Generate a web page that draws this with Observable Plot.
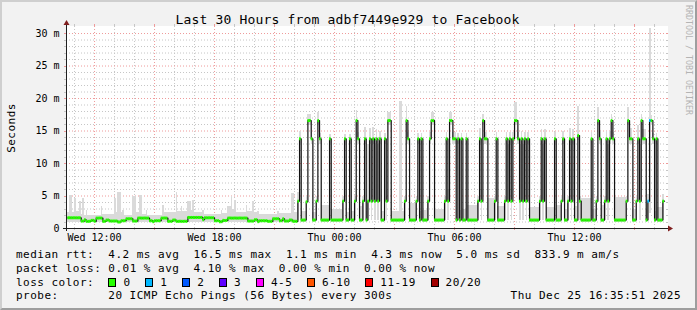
<!DOCTYPE html>
<html><head><meta charset="utf-8">
<script src="https://cdn.jsdelivr.net/npm/d3@7"></script>
<script src="https://cdn.jsdelivr.net/npm/@observablehq/plot@0.6"></script>
<style>
html,body{margin:0;padding:0;background:#fff;}
#chart{position:relative;width:697px;height:310px;background:#f2f2f2;box-sizing:border-box;
  border-top:2px solid #cfcfcf;border-left:2px solid #cfcfcf;border-right:2px solid #9e9e9e;border-bottom:2px solid #9e9e9e;
  overflow:hidden;font-family:"DejaVu Sans Mono",monospace;color:#000;}
#inner{position:absolute;left:-2px;top:-2px;width:697px;height:310px;}
.t{position:absolute;white-space:pre;font-size:11px;line-height:13px;letter-spacing:0.48px;}
</style></head><body><div id="chart"><div id="inner"></div></div>
<script>
// ---------- data ----------
const title = "Last 30 Hours from adbf7449e929 to Facebook";
const yLabel = "Seconds";
const watermark = "RRDTOOL / TOBI OETIKER";
const yTickValues = [0, 5, 10, 15, 20, 25, 30];
const yTickLabels = ["0", "5 m", "10 m", "15 m", "20 m", "25 m", "30 m"];
const xTickTimes = ["2025-12-24T12:00", "2025-12-24T18:00", "2025-12-25T00:00", "2025-12-25T06:00", "2025-12-25T12:00"];
const xTickLabels = ["Wed 12:00", "Wed 18:00", "Thu 00:00", "Thu 06:00", "Thu 12:00"];
const rangeStart = "2025-12-24T10:35:51";
const rangeEnd = "2025-12-25T16:35:51";
const firstSample = "2025-12-24T10:40:00";
const stepMinutes = 5;

// median rtt (ms) as [number of 5-minute samples, value]
const medianRuns = [
  [8,1.65],[2,1.15],[1,1.35],[3,1.1],[2,1.25],[1,1.1],[4,1.6],[2,1.1],[2,1.3],[5,1.15],
  [2,1.0],[3,1.2],[4,1.5],[3,1.15],[7,1.6],[2,1.2],[1,1.05],[4,1.2],[4,1.6],[3,1.1],
  [2,1.3],[7,1.1],[9,1.7],[1,1.35],[6,1.65],[3,1.2],[2,1.05],[3,1.25],[12,1.6],[4,1.15],
  [2,1.35],[1,1.05],[5,1.2],[3,1.1],[4,1.5],[2,1.2],[1,1.5],[3,1.15],[2,1.3],[3,1.1],
  [1,4.2],[1,13.8],[3,1.3],[1,4.1],[2,16.6],[1,13.8],[2,1.3],[1,4.2],[1,16.6],[1,13.8],
  [5,1.3],[1,13.8],[7,1.3],[1,4.2],[1,13.8],[2,1.3],[1,13.8],[2,1.3],[1,4.2],[1,16.6],
  [1,13.8],[2,1.3],[1,4.2],[1,13.8],[1,1.3],[1,4.2],[1,13.8],[1,4.2],[1,13.8],[1,4.2],
  [1,13.8],[1,4.2],[1,13.8],[2,1.3],[1,13.8],[1,4.2],[2,16.6],[8,1.3],[1,4.2],[1,16.6],
  [1,13.8],[4,1.3],[1,4.2],[1,13.8],[1,1.3],[1,13.8],[3,1.3],[1,4.2],[1,13.8],[2,16.6],
  [6,1.3],[1,4.2],[1,13.8],[1,4.2],[2,16.6],[2,13.8],[1,1.3],[1,13.8],[1,1.3],[1,13.8],
  [2,1.3],[1,13.8],[6,1.3],[1,4.2],[1,13.8],[1,4.2],[1,16.6],[2,13.8],[4,1.3],[1,4.2],
  [1,13.8],[4,1.3],[1,4.2],[1,13.8],[1,4.2],[1,13.8],[1,4.2],[1,13.8],[2,16.6],[1,13.8],
  [1,4.2],[1,13.8],[1,4.2],[1,13.8],[1,4.2],[1,13.8],[6,1.3],[1,4.2],[1,13.8],[1,4.2],
  [1,13.8],[5,1.3],[1,13.8],[3,1.3],[1,4.2],[1,13.8],[2,1.3],[1,4.2],[1,13.8],[1,4.2],
  [1,13.8],[2,1.3],[1,14.3],[1,4.2],[6,1.3],[1,13.8],[2,1.3],[1,4.2],[1,16.6],[1,13.8],
  [2,1.3],[1,4.2],[1,13.8],[1,4.2],[1,13.8],[1,16.6],[1,13.8],[7,1.3],[1,4.2],[1,16.6],
  [2,13.8],[2,1.3],[1,4.2],[1,13.8],[1,4.2],[1,16.6],[2,13.8],[1,1.3],[1,4.2],[2,16.6],
  [1,13.8],[1,1.3],[1,13.8],[3,1.3],[1,4.2]
];
// lost pings per sample (out of 20) as [samples, lost]
const lossRuns = [[348,0],[2,1],[8,0]];
// smoke (spread of the 20 pings) as [samples, lowest ms, highest ms]
const smokeRuns = [
  [1,1.0,2.5],[2,1.0,5.1],[1,1.0,2.4],[1,1.0,4.6],[2,1.0,2.6],[1,1.0,4.1],[1,1.0,2.2],[1,1.0,4.6],[1,1.0,2.0],[1,1.0,2.8],
  [8,1.0,2.0],[1,1.0,3.4],[7,1.0,2.1],[1,1.0,4.6],[1,1.0,2.5],[2,1.0,5.6],[1,1.0,2.4],[1,1.0,2.8],[5,1.0,2.0],[2,1.0,4.9],
  [2,1.0,2.4],[2,1.0,5.1],[2,1.0,2.2],[1,1.0,2.8],[9,1.0,2.0],[1,1.0,3.6],[7,1.0,2.4],[1,1.0,5.6],[2,1.0,2.6],[1,1.0,3.4],
  [3,1.0,2.6],[2,1.0,4.1],[1,1.0,2.8],[1,1.0,4.3],[5,1.0,2.4],[1,1.0,2.8],[10,1.0,2.2],[1,1.0,2.8],[3,1.0,2.3],[2,1.0,3.4],
  [1,1.0,4.9],[1,1.0,3.0],[1,1.0,4.3],[6,1.0,2.4],[1,1.0,3.6],[3,1.0,2.6],[1,1.0,4.1],[2,1.0,2.4],[1,1.0,2.6],[11,1.0,2.1],
  [1,1.0,2.6],[7,1.0,2.3],[2,1.0,5.4],[2,1.0,2.5],
  [1,1.2,5.5],[1,13.0,15.0],[3,1.0,2.6],[1,1.2,5.0],[2,15.8,17.6],[1,13.0,14.8],[2,1.0,2.4],[1,1.2,5.0],[1,15.8,17.8],[1,13.0,14.6],
  [5,1.0,3.6],[1,13.0,14.4],[7,1.0,3.0],[1,1.2,5.0],[1,13.0,14.4],[2,1.0,2.4],[1,13.0,14.4],[2,1.0,2.6],[1,1.2,5.0],[1,15.8,18.2],
  [1,13.0,14.8],[2,1.0,3.4],[1,1.2,5.0],[1,13.0,15.6],[1,1.0,2.6],[1,1.2,13.0],[1,13.0,15.4],[1,1.2,13.0],[1,13.0,15.6],[1,1.2,13.0],
  [1,13.0,15.2],[1,1.2,13.0],[1,13.0,15.0],[2,1.0,2.6],[1,13.0,14.6],[1,1.2,5.0],[2,15.8,17.8],[5,1.0,2.6],[2,1.0,19.6],[1,1.0,2.6],
  [1,1.2,5.0],[1,15.8,18.8],[1,13.0,14.8],[4,1.0,3.8],[1,1.2,5.0],[1,13.0,14.6],[1,1.0,2.6],[1,13.0,14.6],[3,1.0,2.8],[1,1.2,5.0],
  [1,13.0,14.8],[2,15.8,17.8],[6,1.0,3.0],[1,1.2,5.0],[1,13.0,14.8],[1,1.2,6.0],[2,15.8,17.8],[2,13.0,14.8],[1,1.0,2.8],[1,13.0,14.6],
  [1,1.0,2.8],[1,13.0,14.6],[2,1.0,3.0],[1,13.0,14.6],[6,1.0,3.6],[1,1.2,5.0],[1,13.0,15.4],[1,1.2,6.0],[1,15.8,17.6],[2,13.0,14.8],
  [4,1.0,4.6],[1,1.2,5.0],[1,13.0,14.8],[4,1.0,3.4],[1,1.2,5.0],[1,13.0,14.8],[1,1.2,13.0],[1,13.0,14.8],[1,1.2,13.0],[1,13.0,14.8],
  [2,15.8,19.4],[1,13.0,14.8],[1,1.2,13.0],[1,13.0,15.0],[1,1.2,13.0],[1,13.0,14.8],[1,1.2,13.0],[1,13.0,14.8],[6,1.0,3.2],[1,1.2,5.0],
  [1,13.0,15.2],[1,1.2,13.0],[1,13.0,15.2],[5,1.0,3.2],[1,13.0,14.8],[3,1.0,3.6],[1,1.2,5.0],[1,13.0,15.0],[2,1.0,3.0],[1,1.2,5.0],
  [1,13.0,15.4],[1,1.2,13.0],[1,13.0,15.2],[2,1.0,3.4],[1,13.5,18.8],[1,1.2,5.0],[6,1.0,4.6],[1,13.0,14.8],[2,1.0,3.0],[1,1.2,5.0],
  [1,15.8,18.6],[1,13.0,15.0],[2,1.0,3.6],[1,1.2,5.0],[1,13.0,15.0],[1,1.2,13.0],[1,13.0,15.0],[1,15.8,17.6],[1,13.0,14.8],[7,1.0,4.8],
  [1,1.2,5.0],[1,15.8,18.6],[2,13.0,15.4],[2,1.0,3.0],[1,1.2,5.0],[1,13.0,15.8],[1,1.2,13.0],[1,15.8,17.6],[2,13.0,15.2],[1,1.0,3.0],
  [1,1.2,5.2],[1,2.3,30.8],[1,15.8,17.4],[1,13.0,14.6],[1,1.0,2.6],[1,13.0,14.6],[3,1.0,3.2],[1,1.2,5.2]
];

const lossLabels = ["0", "1", "2", "3", "4-5", "6-10", "11-19", "20/20"];
const lossColors = ["#26ff00", "#00b8ff", "#0059ff", "#5e00ff", "#ff00ff", "#ff5500", "#ff0000", "#a10000"];
const rttStats = ["4.2 ms avg", "16.5 ms max", "1.1 ms min", "4.3 ms now", "5.0 ms sd", "833.9 m am/s"];
const lossStats = ["0.01 % avg", "4.10 % max", "0.00 % min", "0.00 % now"];
const probeText = "20 ICMP Echo Pings (56 Bytes) every 300s";
const stampText = "Thu Dec 25 16:35:51 2025";

// ---------- build ----------
function expand(runs) { const out = []; for (const r of runs) for (let k = 0; k < r[0]; k++) out.push(r.slice(1)); return out; }
const med = expand(medianRuns), lost = expand(lossRuns), smoke = expand(smokeRuns);
const t0 = new Date(firstSample);
const samples = med.map((m, i) => ({
  t0: d3.timeMinute.offset(t0, i * stepMinutes),
  t1: d3.timeMinute.offset(t0, (i + 1) * stepMinutes),
  v: m[0],
  loss: (lost[i] || [0])[0],
  lo: (smoke[i] || [m[0], m[0]])[0],
  hi: (smoke[i] || [m[0], m[0]])[1]
}));
const linePts = samples.map(d => ({t: d.t0, v: d.v}));
linePts.push({t: samples[samples.length - 1].t1, v: samples[samples.length - 1].v});

const start = new Date(rangeStart), end = new Date(rangeEnd);
const hours = d3.timeHour.range(d3.timeHour.ceil(start), end);
const majorHours = hours.filter(d => d.getHours() % 3 === 0);
const minorHours = hours.filter(d => d.getHours() % 3 !== 0);
const yAll = d3.range(1, 31);
const yMajor = yAll.filter(v => v % 5 === 0);
const yMinor = yAll.filter(v => v % 5 !== 0);
const xTicks = xTickTimes.map(s => new Date(s));

const GRID = "#c6c6c6", MGRID = "#ee9a9a";
const AXIS = "#1f1f1f", ARROW = "#801f1f";

function canvasMark(index, scales, values, dims) {
  const x0 = dims.marginLeft, x1 = dims.width - dims.marginRight;
  const y0 = dims.height - dims.marginBottom, y1 = dims.marginTop;
  const g = d3.create("svg:g");
  g.append("rect").attr("x", x0).attr("y", y1).attr("width", x1 - x0 + 2).attr("height", y0 - y1).attr("fill", "#fff");
  return g.node();
}
function axesMark(index, scales, values, dims) {
  const x0 = dims.marginLeft, x1 = dims.width - dims.marginRight;
  const y0 = dims.height - dims.marginBottom, y1 = dims.marginTop;
  const g = d3.create("svg:g").attr("shape-rendering", "crispEdges");
  for (const v of yAll) {
    const y = Math.round(scales.y(v)) + 0.5, c = v % 5 ? GRID : MGRID;
    g.append("line").attr("x1", x0 - 2).attr("x2", x0).attr("y1", y).attr("y2", y).attr("stroke", c);
    g.append("line").attr("x1", x1).attr("x2", x1 + 2).attr("y1", y).attr("y2", y).attr("stroke", c);
  }
  for (const h of hours) {
    const x = Math.round(scales.x(h)) + 0.5, c = h.getHours() % 3 ? GRID : MGRID;
    g.append("line").attr("x1", x).attr("x2", x).attr("y1", y0).attr("y2", y0 + 2).attr("stroke", c);
    g.append("line").attr("x1", x).attr("x2", x).attr("y1", y1 - 2).attr("y2", y1).attr("stroke", c);
  }
  g.append("line").attr("x1", x0 - 3).attr("x2", x1 + 3).attr("y1", y0 + 0.5).attr("y2", y0 + 0.5).attr("stroke", AXIS);
  g.append("line").attr("x1", x0 + 0.5).attr("x2", x0 + 0.5).attr("y1", y0 + 3).attr("y2", y1 - 3).attr("stroke", AXIS);
  g.append("path").attr("d", `M${x1 + 2},${y0 - 2.5}L${x1 + 7},${y0 + 0.5}L${x1 + 2},${y0 + 3.5}Z`).attr("fill", ARROW).attr("shape-rendering", "auto");
  g.append("path").attr("d", `M${x0 - 2.5},${y1 - 1}L${x0 + 0.5},${y1 - 6}L${x0 + 3.5},${y1 - 1}Z`).attr("fill", ARROW).attr("shape-rendering", "auto");
  return g.node();
}

const plot = Plot.plot({
  width: 697, height: 245,
  marginLeft: 66, marginRight: 31, marginTop: 26, marginBottom: 17,
  style: {background: "transparent", fontFamily: "DejaVu Sans Mono", fontSize: "10px", color: "#000", overflow: "visible"},
  x: {type: "time", domain: [start, end], axis: null},
  y: {domain: [0, 31.08], axis: null},
  color: {type: "identity"},
  marks: [
    canvasMark,
    Plot.ruleY(yMinor, {y: d => d, stroke: GRID, strokeDasharray: "1,2"}),
    Plot.ruleX(minorHours, {x: d => d, stroke: GRID, strokeDasharray: "1,2"}),
    Plot.ruleY(yMajor, {y: d => d, stroke: MGRID, strokeDasharray: "1,2"}),
    Plot.ruleX(majorHours, {x: d => d, stroke: MGRID, strokeDasharray: "1,2"}),
    Plot.rect(samples, {x1: "t0", x2: "t1", y1: "lo", y2: "hi", fill: "#dadada", shapeRendering: "crispEdges"}),
    Plot.line(linePts, {x: "t", y: "v", curve: "step-after", stroke: "#111", strokeWidth: 1.2}),
    Plot.ruleY(samples, {y: "v", x1: "t0", x2: "t1", stroke: d => lossColors[d.loss], strokeWidth: 3}),
    axesMark,
    Plot.axisY(yTickValues, {tickSize: 0, tickPadding: 7, label: null, fontSize: 10,
      tickFormat: d => yTickLabels[yTickValues.indexOf(d)]}),
    Plot.axisX(xTicks, {tickSize: 0, tickPadding: 5.5, label: null, fontSize: 10,
      tickFormat: d => xTickLabels[xTicks.findIndex(t => +t === +d)]})
  ]
});
plot.style.position = "absolute";
plot.style.left = "0px";
plot.style.top = "0px";
const inner = document.getElementById("inner");
inner.appendChild(plot);

// ---------- text around the chart ----------
function addText(txt, left, baseline, extra) {
  const d = document.createElement("div");
  d.className = "t";
  d.textContent = txt;
  d.style.left = left + "px";
  d.style.top = (baseline - 10.3) + "px";
  if (extra) Object.assign(d.style, extra);
  inner.appendChild(d);
  return d;
}
addText(title, 0, 24, {fontSize: "13px", lineHeight: "15px", letterSpacing: "0.17px", width: "695px", textAlign: "center", left: "0px", top: "12px"});

addText("median rtt:  " + rttStats.join("  "), 16, 258.3);
addText("packet loss: " + lossStats.join("  "), 16, 272);
addText("loss color:", 16, 286);
let bx = 108.4;
lossLabels.forEach((lab, k) => {
  const b = document.createElement("div");
  Object.assign(b.style, {position: "absolute", left: bx + "px", top: "278px", width: "8px", height: "9px",
    boxSizing: "border-box", border: "1px solid #000", background: lossColors[k]});
  inner.appendChild(b);
  addText(lab, bx + 15, 286);
  bx = bx + 15 + lab.length * 7.1 + 14.8;
});
addText("probe:", 16, 299.3);
addText(probeText, 108.3, 299.3);
addText(stampText, 0, 299.3, {left: "auto", right: "16px"});

addText(yLabel, 11, 127.5, {top: "127.5px", transform: "translate(-50%,-50%) rotate(-90deg)", lineHeight: "13px"});
addText(watermark, 689, 60, {top: "60px", fontSize: "8.3px", letterSpacing: "0px", color: "#b4b4b4",
  transform: "translate(-50%,-50%) rotate(90deg)", lineHeight: "10px"});
</script>
</body></html>
